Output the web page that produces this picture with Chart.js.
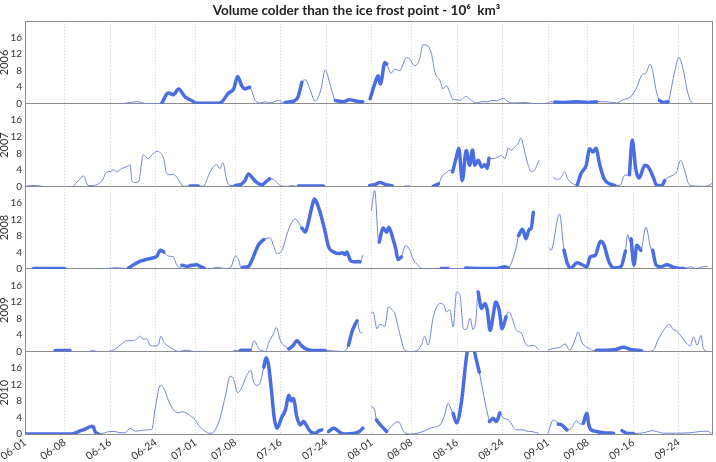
<!DOCTYPE html>
<html>
<head>
<meta charset="utf-8">
<script src="https://cdn.jsdelivr.net/npm/chart.js@4"></script>
<style>
  html, body { margin: 0; padding: 0; background: #fff; }
  canvas { display: block; }
</style>
</head>
<body>
<canvas id="c" width="716" height="462"></canvas>
<script>
// days counted from 06-01 (day 0) to 09-30 (day 121); [day, volume]; null = no data
const years = ['2006', '2007', '2008', '2009', '2010'];
const tickDays = [0, 7, 15, 23, 30, 37, 45, 53, 61, 68, 76, 84, 92, 99, 107, 115];
const tickLabels = ['06-01', '06-08', '06-16', '06-24', '07-01', '07-08', '07-16', '07-24',
  '08-01', '08-08', '08-16', '08-24', '09-01', '09-08', '09-16', '09-24'];
const yTicks = [0, 4, 8, 12, 16];

const vol2006 = [[17,0],[18.5,0.3],[19.7,0.5],[21,0.1],[22.5,0],[24,0],[25.2,2.6],[26.1,2.2],[27,3.6],[28.2,1.6],
  [29.3,0.8],[30,0.2],[32,0.1],[34.3,0.2],[35.8,2.6],[36.7,3.6],[37.4,6.6],[38.1,4.4],[38.7,3.6],[39.5,4],
  [40.5,0.8],[41.4,0.2],[42.3,0.5],[43,0.2],[44.6,0.8],[45.5,0.2],[45.8,0.3],[46.7,0.5],[47.5,0.8],[48,1.6],
  [48.7,5.2],[49.3,5.8],[50.2,3.2],[51,0.6],[52,3.2],[52.8,8.2],[53.7,4.4],[54.3,1.6],[54.6,0.8],[56,0.5],
  [57,1],[57.8,0.8],[59,0.5],[59.4,0.5],[60,null],[60.7,1.2],[61.5,4.8],[62.1,6.8],[62.5,4.8],[63.3,10],
  [63.6,9.6],[64.4,7.4],[65,8.4],[65.9,8],[67.1,11.2],[67.7,10.8],[68.5,9.2],[69.4,10.8],[70,14.3],[70.9,14],
  [71.5,12],[72.1,7.6],[73,5.6],[73.5,3.6],[74.1,4.4],[74.7,2.8],[75.3,1],[75.9,1],[76.5,0.8],[77.1,1.4],
  [77.6,1.8],[78.5,0.8],[79.4,0.2],[80.3,0.5],[81.4,0.5],[82,0.8],[82.9,0.7],[84.1,1.3],[85,0.5],[85.8,0.2],
  [88.2,0.3],[89.5,0],[92,0.2],[92.3,0.5],[93.2,0.4],[95,0.3],[97,0.5],[99,0.3],[100.5,0.5],[101.7,0.5],
  [102.8,0.4],[104,0.2],[105.2,1],[106.4,1.6],[107.6,4],[108.4,6.8],[109.3,7.6],[109.9,9.6],[110.5,7.2],[111,3.2],
  [111.6,0.8],[112.3,0.3],[113.1,0.5],[113.7,4],[114.3,8],[115,11.2],[115.8,8],[116.4,3.6],[117,0.8],[117.5,0]];
const bold2006 = [[24,39.5],[45.8,48.7],[54.6,59.4],[60.7,63.6],[93.2,100.5],[111.6,113.1]];

const vol2007 = [[0,0],[1,0.2],[2,0.2],[3,0],[4,null],[8.5,0],[9.4,1.4],[10.3,2.5],[11.1,0.2],[12,0.2],
  [12.9,0.6],[13.5,1.2],[14.4,3.5],[15,3.6],[15.6,4],[16.1,3.5],[17,4.3],[17.9,4.8],[18.5,5.2],[18.8,1.4],
  [19.4,0.9],[20,1.2],[20.8,7.6],[21.7,6.7],[22.3,7.6],[23.3,8.5],[23.8,8.1],[24.4,6.7],[24.9,3.1],[25.5,2.8],
  [26.1,2.9],[26.7,2.2],[27.3,0.9],[27.9,0],[29,0.1],[30.5,0.1],[31.4,0],[32.3,2.7],[33.2,4.9],[33.7,5.2],
  [34.3,4.3],[34.8,5.7],[35.5,1.4],[36,0.2],[37,0.2],[37.9,0.4],[38.7,1.4],[39.3,3],[40.2,1.7],[41.1,0.6],
  [41.7,0.4],[42.3,1],[43,1.8],[43.7,1.7],[44.3,0.9],[44.9,0.2],[46.1,0],[46.9,0.2],[47.8,0],[48.1,0.1],
  [50,0.1],[52.5,0.1],[55,null],[60.6,0.2],[61.5,0.4],[62.4,0.9],[63.5,0.4],[64.6,0.1],[65.5,null],[66.8,0.1],
  [67.7,0.1],[69,null],[71.8,0],[72.7,0.6],[73.5,2.7],[74.1,3.3],[74.7,3.9],[75.2,3.5],[75.8,6.7],[76.3,9.2],
  [76.9,1.4],[77.6,8.7],[78.2,5.1],[78.7,8.8],[79.1,5.1],[79.7,6.3],[80.3,4.7],[80.9,5.2],[81.3,4.3],[81.6,6.8],
  [82.3,6.7],[83.2,7.1],[83.8,7.5],[84.4,6.7],[85,9.3],[85.5,8.7],[86.1,9.5],[86.7,10.3],[87.2,11.7],[87.9,8.3],
  [88.5,5.1],[89,3.6],[89.6,3.9],[90.4,6.3],[91.5,null],[92.9,2.2],[93.5,1.7],[94.2,2],[94.9,3.5],[95.5,1.7],
  [96.4,0.6],[97.1,0.2],[97.8,3.1],[98.7,5.1],[99.3,9.1],[99.9,8.3],[100.4,9.2],[101.1,5.1],[101.9,1.7],[102.8,0.6],
  [103.7,0.2],[104.6,0.2],[105.5,2.7],[106.3,2.8],[106.8,11.2],[107.4,4.3],[108,2],[109,5.1],[109.6,4.7],[110.5,2.2],
  [111.1,0.2],[112,0.2],[112.5,1.4],[113.1,2.2],[114,2.7],[114.6,3.5],[115.3,6.3],[116,3.9],[116.8,0.4],[117.5,0.1],
  [119.3,0],[120.5,0.4],[121,1]];
const bold2007 = [[29,30.5],[37,43],[48.1,52.5],[60.6,64.6],[71.8,72.7],[75.2,81.6],[97.1,103.7],[106.3,112.5]];

const vol2008 = [[1.5,0.1],[4,0.1],[7,0.1],[10,null],[13.2,0],[14.5,0.1],[16,0.3],[17.9,0.1],[18.2,0.2],[19.1,1],
  [20.2,1.8],[21.4,2.3],[22.6,2.7],[23.2,3.1],[23.8,4.5],[24.4,4.1],[25.2,3.1],[26.1,2.9],[26.7,0.9],[27.3,0.2],
  [27.6,0.9],[28.5,0.6],[29.3,0.9],[30.2,1],[30.8,0.6],[31.5,0.2],[32.3,0],[34,0.4],[34.9,0.1],[36.1,0.2],
  [37,3.1],[37.6,2.1],[38,0.2],[38.3,0.4],[39.3,0.6],[39.9,2.1],[40.5,4.1],[41.1,5.9],[42,7.1],[43.1,7.5],
  [43.7,5.7],[44.3,3.7],[45.2,4.5],[46.1,8.5],[46.7,10.7],[47.5,12.1],[48.1,11.3],[48.7,9.9],[49.3,8.9],[49.9,11.7],
  [50.5,15.3],[50.9,16.9],[51.3,16.1],[51.9,13.7],[52.8,8.9],[53.4,5.3],[54.3,4.1],[55.2,3.7],[55.8,3.9],[56.3,3.5],
  [56.6,4.1],[57.2,2.1],[57.8,1.7],[58.7,1.8],[58.9,1.7],[59.4,3.3],[60.2,null],[60.9,14.1],[61.5,19],[62.1,7.7],
  [62.3,6.5],[63,9.9],[63.6,8.9],[64,10.1],[64.7,7.3],[65.2,4.9],[65.6,2.3],[66.2,2.9],[66.9,5.7],[67.7,4.5],
  [68.2,2.5],[69.1,0.9],[70,0],[73.2,0.1],[74.4,0.1],[76,0],[77.5,0.2],[80,0.1],[83,0.1],[84.4,0.5],
  [85,0.2],[85.5,1.3],[86.4,5.3],[86.8,8.1],[87.5,9.6],[88.1,7.3],[88.7,9.6],[89,9.7],[89.4,13.7],[90.5,null],
  [92.2,5.1],[92.5,4.5],[94,13.3],[94.8,4.5],[95.4,1.3],[96,0.2],[97.1,1.5],[98,1],[98.8,0.5],[99.4,2.9],
  [100.3,3.3],[101.2,6.7],[101.8,5.9],[102.7,1.7],[103.6,0.2],[104.8,0.5],[105.6,4.3],[106,8.3],[106.4,6.5],[106.6,7.3],
  [107.1,0.9],[107.6,5.7],[108.3,4.5],[109.2,10.1],[110.1,4.9],[110.4,4.5],[111,0.9],[111.8,0.5],[112.9,1],[113.9,0.5],
  [115.3,0.1],[115.9,0.1],[117.1,0.5],[118,0.1],[119.2,0.5],[120,0.6]];
const bold2008 = [[1.5,7],[18.2,24.4],[27.6,31.5],[38.3,42],[48.7,58.9],[62.3,66.2],[73.2,74.4],[77.5,85],
  [86.8,89.4],[94.8,105.6],[106.6,108.3],[110.4,115.9]];

const vol2009 = [[5.3,0.2],[7.9,0.2],[9,null],[11.2,0],[12,0.2],[12.6,0],[13.5,null],[14.7,0],[15.8,0.5],[17,1.8],
  [17.9,2.6],[19.1,2.6],[19.7,3.1],[20.2,3.7],[20.8,2.9],[21.4,3.1],[22,1.5],[22.9,1.3],[23.5,1.8],[23.9,3.7],
  [24.4,2.3],[25.2,1.3],[26.1,0.5],[27,0],[28.5,0.3],[29.6,0],[31.4,0],[33,null],[36.7,0.2],[37.9,0.3],
  [39.6,0.3],[40.3,2.6],[41.1,0.7],[42.3,0],[42.8,1.9],[43.7,4.3],[44.2,5.8],[44.9,2.7],[45.5,1.5],[46.1,1],
  [46.4,0.6],[47.2,1.5],[47.8,2.6],[48.7,1.3],[49.6,0.5],[50.8,0.2],[52.8,0.2],[54.5,0.1],[56,0],[56.9,1.5],
  [57.5,4.7],[58.1,6.7],[58.4,7.4],[58.9,4.7],[59.3,4.5],[60,null],[60.9,9.2],[61.2,9.6],[61.9,5.5],[62.4,6.6],
  [63.3,6.1],[63.9,10.8],[64.6,10],[65,9.3],[65.9,4.3],[66.8,0.3],[67.7,0],[68.9,0.2],[69.7,1.5],[70.3,3.7],
  [70.9,1.5],[71.8,8.4],[73,11.6],[73.7,11.2],[74.1,9.6],[74.7,10.1],[75.3,5.9],[75.9,14.4],[76.5,13.6],[77.1,5.5],
  [77.6,5.3],[78.3,8],[78.8,5.3],[79.3,7.6],[79.7,14.4],[80.3,10.4],[80.9,11.6],[81.3,10],[81.8,5.1],[82.3,8.4],
  [82.8,12],[83.4,10],[83.9,5.5],[84.6,8.4],[85.1,9.6],[85.8,7.6],[86.4,5.1],[87.3,4.5],[87.9,2.3],[88.5,1.3],
  [89.4,1.5],[90.3,0.5],[91,null],[92,0.3],[92.9,0.7],[94.1,1],[95,1.8],[95.8,0.3],[96.7,2.7],[97.3,4.7],
  [97.9,2.3],[98.8,1],[99.3,0.7],[100,0.2],[100.5,0.3],[102,0.3],[104,0.5],[105.2,1],[106.5,0.5],[108.4,0.2],
  [109.3,0],[110.5,0.3],[111.3,2.7],[112.3,5.1],[113.3,6.6],[114,5.3],[114.6,5],[115.5,3.5],[116.4,1.9],[117,1.3],
  [117.6,3.5],[118.2,1.5],[118.9,3.9],[119.3,0.7],[120,0]];
const bold2009 = [[5.3,7.9],[37.9,39.6],[46.4,52.8],[56.9,58.4],[79.7,84.6],[100.5,108.4]];

const vol2010 = [[0,0],[4,0],[8.2,0],[9.4,0.6],[10.6,1.2],[11.6,1.8],[12,1.8],[12.3,0.6],[12.9,0],[13.8,0.2],
  [15,0.6],[15.8,0.6],[16.7,0.3],[17.6,0.3],[18.5,1.4],[19.4,0.7],[20.2,0.8],[21.4,1],[22.3,1.1],[22.9,6.2],
  [23.8,11.8],[24.5,10.8],[25.2,8.2],[26.1,5.9],[27,5.1],[27.6,5.4],[28.5,5],[29.3,4.2],[29.9,3.5],[30.5,2.2],
  [31.4,1],[32.3,0.2],[32.9,0.2],[33.5,1.1],[34.3,3.8],[35.2,9],[36.1,14],[36.7,13.2],[37.4,10],[38.1,11.2],
  [39,14.2],[39.7,15.4],[40.2,12.6],[40.8,11.8],[41.4,12.6],[42,16.2],[42.4,18.5],[42.8,17],[43.4,9.8],[43.8,4.2],
  [44.3,1.4],[45.2,4.2],[45.8,5.8],[46.4,9.4],[46.8,8],[47.2,8.6],[47.8,4.2],[48.4,2.2],[49,3],[49.6,1.8],
  [50.2,0.6],[51.1,0.2],[51.6,0.7],[52.2,1],[52.8,null],[53.4,0.6],[54.3,1.4],[55.2,0.6],[56,0],[58,0.2],
  [58.8,0.6],[59.4,1.4],[60.2,null],[60.9,6.6],[61.5,5.8],[61.8,3.4],[62.7,1.9],[63.6,0.6],[64.4,1.8],[65.6,3],
  [66.8,0.3],[67.9,0],[70,0.6],[70.9,1.2],[71.8,1.6],[73,2.2],[73.8,4.6],[74.4,7.4],[75,5.8],[75.3,5],
  [75.9,2.7],[76.8,8.2],[77.6,18.2],[78.4,24],[79.2,19],[79.9,15],[80.5,10.6],[81.4,4.6],[81.7,3],[82.3,3.8],
  [82.9,3],[83.5,5.1],[84.1,3.8],[85,3.5],[85.8,1.9],[86.4,1],[87.6,1],[88.2,0.7],[89,0.6],[90.3,0.2],
  [91.2,null],[92,0.2],[92.9,3.4],[93.5,3],[93.8,2.4],[94.4,2.2],[95,1.4],[95.3,1],[96.1,1.4],[97,3.2],
  [97.6,2.4],[98.2,2.6],[98.8,5],[99.2,1.9],[99.6,1],[100.5,0.6],[101.7,0.3],[103.5,0.2],[104.2,null],[105,0.8],
  [105.8,0.2],[107,0.1],[108.8,0.3],[110.3,0.8],[111.1,0.6],[112.3,0.2],[114.6,0.2],[117,0.3],[118.7,0.6],
  [119.9,0.7],[120.7,0.2]];
const bold2010 = [[0,12.9],[42,52.2],[53.4,59.4],[61.8,63.6],[75.3,79.9],[81.7,83.5],[93.8,95.3],[98.2,103.5],[105,107]];

const series = [vol2006, vol2007, vol2008, vol2009, vol2010];
const bolds = [bold2006, bold2007, bold2008, bold2009, bold2010];

Chart.defaults.font.family = "Lato, 'Open Sans', sans-serif";
Chart.defaults.color = '#333';

const inBold = (day, ranges) => ranges.some(r => day >= r[0] && day <= r[1]);

const datasets = [];
const scales = {
  x: {
    type: 'linear',
    position: 'bottom',
    min: 0,
    max: 121,
    afterBuildTicks: s => { s.ticks = tickDays.map(v => ({ value: v })); },
    afterFit: s => { s.height = 28; s.paddingLeft = 0; s.paddingRight = 0; },
    ticks: {
      autoSkip: false,
      minRotation: 35,
      maxRotation: 35,
      padding: 2,
      font: { size: 10.5 },
      callback: v => tickLabels[tickDays.indexOf(v)]
    },
    grid: { color: '#cfcfcf', lineWidth: 1, drawTicks: false },
    border: { display: false, dash: [1, 2] }
  }
};

// stacked axes are placed bottom-up in insertion order, so add the last year first
years.slice().reverse().forEach(yr => {
  scales['y' + yr] = {
    type: 'linear',
    position: 'left',
    stack: 'years',
    stackWeight: 1,
    min: 0,
    max: 20,
    afterBuildTicks: s => { s.ticks = yTicks.map(v => ({ value: v })); },
    afterFit: s => { s.width = 25; },
    ticks: { autoSkip: false, padding: 3, font: { size: 10 } },
    grid: {
      drawTicks: false,
      lineWidth: 1,
      color: c => (c.tick && c.tick.value === 0) ? '#8c8c8c' : 'rgba(0,0,0,0)'
    },
    border: { display: false },
    title: { display: true, text: yr, font: { size: 11, lineHeight: 1 }, padding: { top: -1.2, bottom: 0 } }
  };
});

years.forEach((yr, i) => {
  const id = 'y' + yr;
  const pts = series[i].map(p => ({ x: p[0], y: p[1] }));
  datasets.push({
    label: yr,
    yAxisID: id,
    data: pts,
    borderColor: '#7085d8',
    borderWidth: 1,
    order: 2
  });
  datasets.push({
    label: yr + ' bold',
    yAxisID: id,
    data: pts.map(p => ({ x: p.x, y: (p.y !== null && inBold(p.x, bolds[i])) ? p.y : null })),
    borderColor: '#4a6ee2',
    borderWidth: 3.5,
    order: 1
  });
});

// keep each year's line inside its own panel
const panelClip = {
  id: 'panelClip',
  beforeDatasetDraw(chart, args) {
    const a = chart.chartArea, ys = args.meta.yScale;
    chart.ctx.save();
    chart.ctx.beginPath();
    chart.ctx.rect(a.left, ys.top, a.right - a.left, ys.bottom - ys.top + 2);
    chart.ctx.clip();
  },
  afterDatasetDraw(chart) {
    chart.ctx.restore();
  }
};

const frame = {
  id: 'frame',
  beforeDatasetsDraw(chart) {
    const a = chart.chartArea, ctx = chart.ctx;
    ctx.save();
    ctx.strokeStyle = '#8c8c8c';
    ctx.lineWidth = 1;
    ctx.strokeRect(Math.round(a.left) + 0.5, Math.round(a.top) + 0.5,
      Math.round(a.right - a.left) - 1, Math.round(a.bottom - a.top));
    ctx.restore();
  }
};

new Chart(document.getElementById('c'), {
  type: 'line',
  data: { datasets },
  options: {
    responsive: false,
    animation: false,
    devicePixelRatio: 1,
    layout: { padding: { left: 0, right: 3, top: 0, bottom: 0 } },
    elements: {
      point: { radius: 0 },
      line: { cubicInterpolationMode: 'monotone', borderJoinStyle: 'round', borderCapStyle: 'round' }
    },
    spanGaps: false,
    scales,
    plugins: {
      legend: { display: false },
      tooltip: { enabled: false },
      title: {
        display: true,
        text: 'Volume colder than the ice frost point - 10\u2076  km\u00b3',
        font: { size: 13.5, weight: 'bold' },
        color: '#222',
        padding: { top: 3, bottom: 2 }
      }
    }
  },
  plugins: [panelClip, frame]
});
</script>
</body>
</html>
